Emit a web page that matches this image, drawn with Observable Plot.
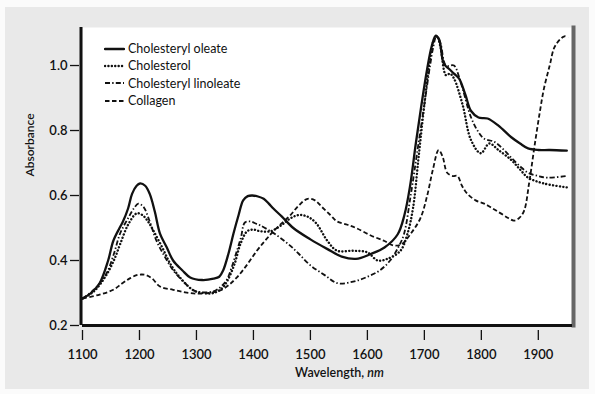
<!DOCTYPE html>
<html>
<head>
<meta charset="utf-8">
<script src="https://cdn.jsdelivr.net/npm/d3@7"></script>
<script src="https://cdn.jsdelivr.net/npm/@observablehq/plot@0.6"></script>
<style>
  html, body { margin: 0; padding: 0; background: #fbfbfb; }
  #wrap { position: relative; width: 595px; height: 394px; overflow: hidden; }
  #panel { position: absolute; left: 5px; top: 7px; width: 584px; height: 382px; background: #e9e9e9; }
  #chart { position: absolute; left: 0; top: 0; }
  #legend { position: absolute; left: 104px; top: 40px; font-family: Lato, sans-serif; font-size: 12.5px; color: #111; }
  #legend .row { display: flex; align-items: center; height: 17.3px; }
  #legend svg { margin-right: 3px; }
</style>
</head>
<body>
<div id="wrap">
  <div id="panel"></div>
  <div id="chart"></div>
  <div id="legend"></div>
</div>
<script>
// ---- Data ----
const seriesNames = ["Cholesteryl oleate", "Cholesterol", "Cholesteryl linoleate", "Collagen"];

const wlOleate = [1100,1115,1130,1145,1154,1165,1171,1180,1187,1195,1201,1210,1218,1227,1236,1248,1259,1275,1289,1310,1330,1340,1347,1356,1365,1374,1382,1390,1398,1408,1418,1427,1435,1450,1470,1500,1530,1555,1580,1606,1630,1653,1665,1675,1685,1695,1705,1713,1720,1726,1734,1743,1752,1761,1772,1782,1795,1811,1830,1852,1868,1882,1900,1920,1950];
const absOleate = [0.283,0.30,0.33,0.40,0.46,0.50,0.52,0.56,0.605,0.63,0.637,0.63,0.605,0.55,0.483,0.44,0.40,0.37,0.348,0.34,0.344,0.35,0.37,0.42,0.483,0.54,0.585,0.598,0.60,0.597,0.59,0.575,0.56,0.535,0.50,0.465,0.435,0.412,0.405,0.42,0.44,0.48,0.54,0.63,0.76,0.88,0.99,1.06,1.092,1.08,1.006,0.99,0.975,0.96,0.91,0.86,0.84,0.837,0.815,0.78,0.76,0.745,0.74,0.74,0.738];

const wlCholesterol = [1100,1120,1140,1155,1166,1180,1195,1205,1215,1225,1240,1254,1270,1295,1312,1330,1345,1355,1367,1377,1389,1400,1412,1430,1450,1465,1480,1495,1510,1530,1547,1575,1600,1618,1635,1658,1670,1680,1690,1700,1710,1717,1722,1728,1738,1745,1752,1767,1782,1799,1814,1830,1852,1868,1882,1910,1950];
const absCholesterol = [0.283,0.305,0.35,0.40,0.45,0.51,0.545,0.54,0.52,0.49,0.44,0.39,0.35,0.308,0.30,0.30,0.315,0.34,0.39,0.45,0.49,0.495,0.49,0.49,0.51,0.53,0.54,0.535,0.515,0.46,0.43,0.43,0.425,0.40,0.405,0.43,0.48,0.56,0.72,0.88,1.02,1.08,1.09,1.06,0.97,0.975,0.96,0.88,0.77,0.73,0.76,0.74,0.71,0.68,0.655,0.637,0.625];

const wlLinoleate = [1100,1120,1142,1155,1166,1180,1190,1198,1207,1218,1230,1245,1259,1277,1295,1312,1330,1342,1353,1362,1371,1378,1385,1395,1405,1412,1430,1447,1465,1480,1500,1525,1548,1575,1600,1622,1640,1654,1664,1676,1688,1700,1710,1716,1721,1728,1738,1752,1760,1767,1782,1795,1805,1823,1840,1852,1868,1882,1900,1916,1950];
const absLinoleate = [0.283,0.31,0.36,0.42,0.483,0.53,0.56,0.575,0.565,0.52,0.46,0.41,0.37,0.335,0.308,0.302,0.305,0.318,0.34,0.38,0.43,0.47,0.517,0.52,0.513,0.508,0.49,0.47,0.445,0.42,0.385,0.355,0.33,0.335,0.35,0.37,0.40,0.44,0.48,0.60,0.74,0.88,1.0,1.06,1.09,1.07,1.0,1.0,0.97,0.93,0.84,0.795,0.775,0.765,0.74,0.717,0.69,0.67,0.66,0.655,0.66];

const wlCollagen = [1100,1130,1154,1170,1183,1195,1204,1212,1222,1236,1259,1280,1301,1322,1342,1357,1371,1388,1406,1420,1435,1450,1465,1480,1495,1508,1520,1535,1547,1565,1580,1606,1630,1646,1660,1675,1693,1705,1715,1725,1732,1740,1750,1758,1766,1775,1790,1805,1820,1834,1848,1857,1866,1875,1884,1893,1902,1910,1920,1928,1938,1946,1952];
const absCollagen = [0.283,0.295,0.31,0.33,0.345,0.355,0.357,0.355,0.345,0.32,0.31,0.302,0.298,0.30,0.308,0.325,0.348,0.385,0.43,0.46,0.49,0.515,0.54,0.57,0.59,0.585,0.565,0.54,0.52,0.51,0.50,0.477,0.46,0.446,0.45,0.48,0.53,0.60,0.68,0.74,0.72,0.67,0.66,0.66,0.63,0.606,0.585,0.575,0.56,0.545,0.53,0.523,0.53,0.553,0.64,0.748,0.85,0.93,1.0,1.055,1.08,1.09,1.085];

const xTicks = [1100,1200,1300,1400,1500,1600,1700,1800,1900];
const yTicks = [0.2,0.4,0.6,0.8,1.0];

// ---- Build table ----
const lists = [[wlOleate, absOleate], [wlCholesterol, absCholesterol], [wlLinoleate, absLinoleate], [wlCollagen, absCollagen]];
const styles = [
  {strokeWidth: 2.3, dash: null, cap: "round"},
  {strokeWidth: 2.4, dash: "0.1,3.3", cap: "round"},
  {strokeWidth: 1.8, dash: "5,2.2,1.4,2.2", cap: "butt"},
  {strokeWidth: 1.8, dash: "4.5,2.5", cap: "butt"}
];
const rows = [];
lists.forEach(([wl, ab], i) => wl.forEach((w, j) => rows.push({series: seriesNames[i], wl: w, abs: ab[j]})));

const ink = "#111";
const font = "Lato, sans-serif";

const marks = [
  Plot.frame({fill: "white", stroke: null}),
  Plot.frame({anchor: "right", stroke: "#666", strokeWidth: 4, dx: 1}),
  ...seriesNames.map((name, i) => Plot.line(rows.filter(d => d.series === name), {
    x: "wl", y: "abs", stroke: ink, strokeWidth: styles[i].strokeWidth,
    strokeDasharray: styles[i].dash, strokeLinecap: styles[i].cap, curve: "catmull-rom"
  })),
  Plot.ruleY([0.2], {stroke: "#111", strokeWidth: 3}),
  Plot.ruleX([1100], {stroke: "#111", strokeWidth: 3, dx: -1.5}),
  Plot.axisX({ticks: xTicks, tickSize: 10, dy: 5, tickPadding: 9, tickFormat: d3.format("d"), label: null, fontSize: 13, fontWeight: 600, stroke: ink, strokeWidth: 1.3}),
  Plot.axisY({ticks: yTicks, tickSize: 9, dx: -3, tickPadding: 3, tickFormat: d3.format(".1f"), label: null, fontSize: 13, fontWeight: 600, stroke: ink, strokeWidth: 1.3}),
  Plot.text(["Wavelength, nm"], {frameAnchor: "bottom", dy: 47, dx: 12, fontSize: 12.5, fontWeight: 600, fill: ink, lineAnchor: "middle"}),
  Plot.text(["Absorbance"], {frameAnchor: "left", dx: -52, rotate: -90, fontSize: 12, fontWeight: 600, fill: ink, lineAnchor: "middle"})
];

const chart = Plot.plot({
  width: 595, height: 394,
  marginLeft: 82, marginRight: 23, marginTop: 27, marginBottom: 69,
  style: {background: "transparent", fontFamily: font, color: ink},
  x: {domain: [1100, 1960]},
  y: {domain: [0.2, 1.117]},
  marks
});
document.getElementById("chart").appendChild(chart);

// italic "nm"
d3.select(chart).selectAll("text").filter(function() { return this.textContent === "Wavelength, nm"; })
  .each(function() {
    const t = d3.select(this);
    t.text("Wavelength, ");
    t.append("tspan").attr("font-style", "italic").text("nm");
  });

// ---- Legend ----
const legend = d3.select("#legend");
seriesNames.forEach((name, i) => {
  const row = legend.append("div").attr("class", "row");
  const s = row.append("svg").attr("width", 21).attr("height", 8);
  s.append("line").attr("x1", 1).attr("x2", 20).attr("y1", 4).attr("y2", 4)
    .attr("stroke", ink).attr("stroke-width", styles[i].strokeWidth)
    .attr("stroke-dasharray", styles[i].dash).attr("stroke-linecap", styles[i].cap);
  row.append("span").text(name);
});
</script>
</body>
</html>
